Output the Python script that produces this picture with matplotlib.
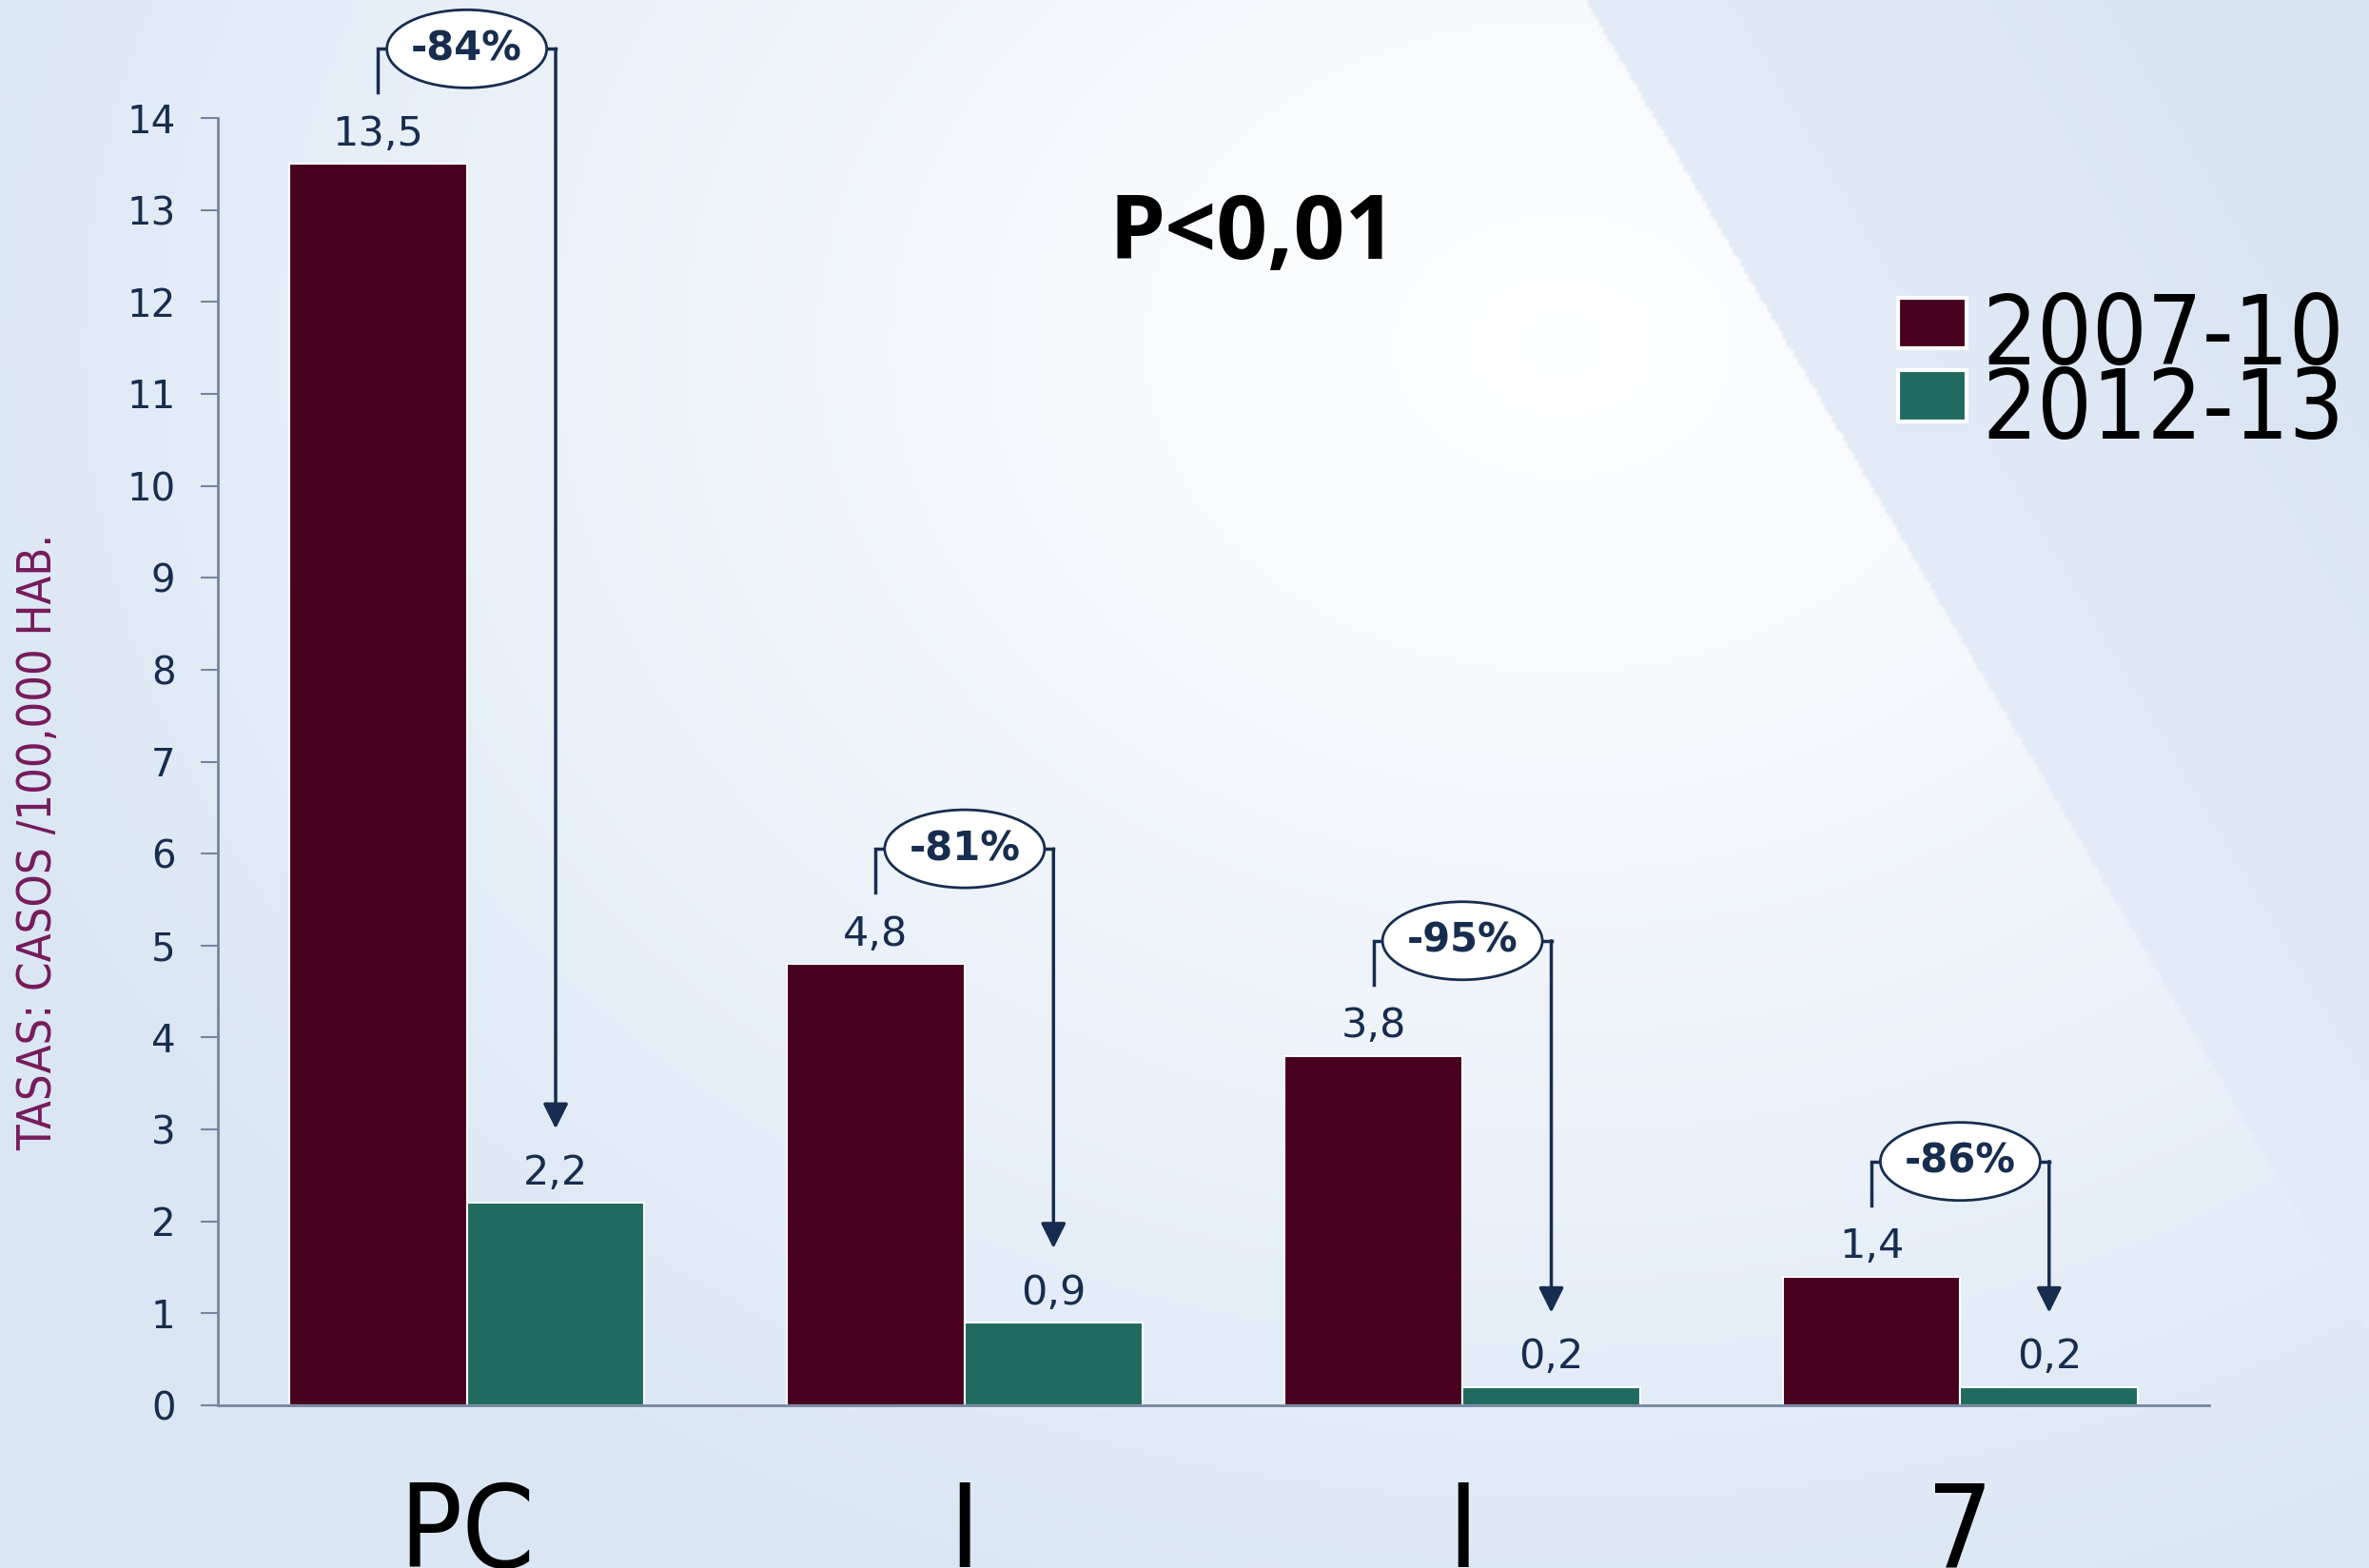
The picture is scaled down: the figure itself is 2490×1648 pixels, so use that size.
import numpy as np
import matplotlib.pyplot as plt
from matplotlib.patches import Ellipse, Rectangle

# datos
categorias = ["PC", "I", "I", "7"]
periodos = ["2007-10", "2012-13"]
tasa_2007_10 = [13.5, 4.8, 3.8, 1.4]
tasa_2012_13 = [2.2, 0.9, 0.2, 0.2]
reduccion = ["-84%", "-81%", "-95%", "-86%"]

granate = "#48001f"
verde = "#206a5f"
azul = "#172d4f"

W, H = 2490, 1648
fig = plt.figure(figsize=(W / 100, H / 100), dpi=100)

# fondo: degradado azul claro con una franja blanca diagonal
ny, nx = 412, 622
u, v = np.meshgrid(np.linspace(0, 1, nx), np.linspace(0, 1, ny))
claro = np.array([0.855, 0.902, 0.957])
blanco = np.array([0.995, 0.997, 1.0])
d = np.sqrt(((u - 0.66) / 0.72) ** 2 + ((v - 0.22) / 0.85) ** 2)
t = np.clip(d, 0, 1)[..., None] ** 1.3
img = blanco * (1 - t) + claro * t
xlinea = 0.67 + 0.33 * v / 0.848
s = np.clip((u - xlinea) / 0.25, 0, 1)[..., None]
lado = (u > xlinea)[..., None]
derecha = np.array([0.89, 0.92, 0.965]) * (1 - s) + np.array([0.85, 0.895, 0.955]) * s
img = np.where(lado, derecha, img)

bg = fig.add_axes([0, 0, 1, 1])
bg.imshow(img, extent=[0, 1, 0, 1], aspect="auto", interpolation="bilinear")
bg.axis("off")

ax = fig.add_axes([229 / W, 1 - 1477 / H, (2322 - 229) / W, (1477 - 124) / H])
ax.patch.set_alpha(0)

x = np.arange(len(categorias))
w = 0.357
ax.bar(x - w / 2, tasa_2007_10, w, color=granate, edgecolor="white", linewidth=1.5)
ax.bar(x + w / 2, tasa_2012_13, w, color=verde, edgecolor="white", linewidth=1.5)

ax.set_xlim(-0.5, 3.5)
ax.set_ylim(0, 14)
ax.set_yticks(range(0, 15))
ax.tick_params(axis="y", length=13, width=1.5, color="#7585a0", pad=19,
               labelsize=29, labelcolor=azul)
ax.set_xticks(x)
ax.set_xticklabels(categorias, fontsize=88, color="black", fontstretch="condensed")
ax.tick_params(axis="x", length=0, pad=56)
for lado_ in ["top", "right"]:
    ax.spines[lado_].set_visible(False)
for lado_ in ["left", "bottom"]:
    ax.spines[lado_].set_color("#7585a0")
    ax.spines[lado_].set_linewidth(2)

# etiquetas de valor
for serie, dx in [(tasa_2007_10, -w / 2), (tasa_2012_13, w / 2)]:
    for xi, val in zip(x, serie):
        ax.annotate(f"{val:.1f}".replace(".", ","), (xi + dx, val),
                    xytext=(0, 14), textcoords="offset points",
                    ha="center", va="baseline", fontsize=31, color=azul)

# corchetes con el porcentaje de reduccion
bb = ax.get_window_extent()
py = 14 / bb.height
px = 4 / bb.width
for xi, a, b, txt in zip(x, tasa_2007_10, tasa_2012_13, reduccion):
    xl, xr = xi - w / 2, xi + w / 2
    ye = a + 121 * py
    ax.plot([xl, xl, xi - 84 * px], [a + 75 * py, ye, ye], color=azul, lw=2.5,
            solid_joinstyle="miter", clip_on=False)
    ax.plot([xi + 84 * px, xr], [ye, ye], color=azul, lw=2.5, clip_on=False)
    ax.annotate("", xy=(xr, b + 78 * py), xytext=(xr, ye), annotation_clip=False,
                arrowprops=dict(arrowstyle="-|>", color=azul, lw=2.5,
                                mutation_scale=40, shrinkA=0, shrinkB=0))
    ax.add_patch(Ellipse((xi, ye), 168 * px, 82 * py, facecolor="white",
                         edgecolor=azul, lw=2, zorder=3, clip_on=False))
    ax.text(xi, ye, txt, ha="center", va="center", fontsize=30,
            fontweight="bold", color=azul, zorder=4)

fig.text(1317 / W, 1 - 272 / H, "P<0,01", ha="center", va="baseline",
         fontsize=68, fontweight="bold", family="Open Sans", color="black")

fig.text(40 / W, 1 - 885 / H, "TASAS: CASOS /100,000 HAB.", rotation=90,
         ha="center", va="center", fontsize=35, fontstretch="condensed",
         color="#761a5c")

# leyenda
for (y0, y1), color, etiqueta, base in [((313, 366), granate, periodos[0], 383),
                                        ((389, 443), verde, periodos[1], 461)]:
    fig.add_artist(Rectangle((1995 / W, 1 - y1 / H), 72 / W, (y1 - y0) / H,
                             facecolor=color, edgecolor="white", lw=3,
                             transform=fig.transFigure))
    fig.text(2083 / W, 1 - base / H, etiqueta, ha="left", va="baseline",
             fontsize=73, fontstretch="condensed", color="black")

fig.savefig("out.png", dpi=100)
